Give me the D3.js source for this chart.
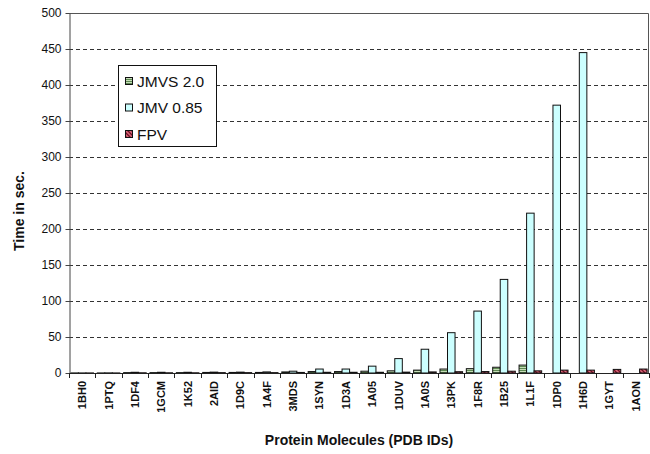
<!DOCTYPE html>
<html>
<head>
<meta charset="utf-8">
<script src="https://cdn.jsdelivr.net/npm/d3@7/dist/d3.min.js"></script>
<style>
  html, body { margin: 0; padding: 0; background: #fff; }
  svg { display: block; font-family: "Liberation Sans", Arial, sans-serif; }
</style>
</head>
<body>
<svg id="chart" width="650" height="454"></svg>
<script>
const categories = ["1BH0","1PTQ","1DF4","1GCM","1K52","2AID","1D9C","1A4F","3MDS","1SYN","1D3A","1A05","1DUV","1A0S","13PK","1F8R","1B25","1L1F","1DP0","1H6D","1GYT","1AON"];
const seriesNames = ["JMVS 2.0", "JMV 0.85", "FPV"];
const jmvs = [0.1,0.1,0.5,0.5,0.5,0.8,0.8,0.8,1.5,2,2,2.5,3,4,5.5,6,8,11,null,null,null,null];
const jmv  = [0.1,0.2,1,1,1,1.2,1.2,1.5,2.5,5.5,5.5,9.5,20,33,56,86,130,222,372,445,null,null];
const fpv  = [0.1,0.1,0.3,0.3,0.3,0.5,0.5,0.5,0.8,1,1,1,1.2,1.5,1.8,2,2.5,3,4,4,5,5.5];
const yTicks = [0,50,100,150,200,250,300,350,400,450,500];
const yTitle = "Time in sec.";
const xTitle = "Protein Molecules (PDB IDs)";

const seriesValues = [jmvs, jmv, fpv];
const fills = ["url(#patGreen)", "#ccffff", "url(#patRed)"];

const svg = d3.select("#chart");
const L = 69, R = 649, T = 13, B = 373;

// patterns
const defs = svg.append("defs");
const pg = defs.append("pattern").attr("id","patGreen").attr("patternUnits","userSpaceOnUse")
  .attr("width",4).attr("height",2);
pg.append("rect").attr("width",4).attr("height",2).attr("fill","#c6dcb8");
pg.append("rect").attr("width",4).attr("height",1).attr("fill","#5d8a52");
const pr = defs.append("pattern").attr("id","patRed").attr("patternUnits","userSpaceOnUse")
  .attr("width",4).attr("height",4);
pr.append("rect").attr("width",4).attr("height",4).attr("fill","#d9687a");
pr.append("path").attr("d","M0,0 L4,4 M-1,3 L1,5 M3,-1 L5,1").attr("stroke","#6e0f22").attr("stroke-width",1.3);

const x = d3.scaleBand().domain(categories).range([L, R]).paddingInner(0).paddingOuter(0);
const xs = d3.scaleBand().domain(seriesNames).range([0, x.bandwidth()]).paddingInner(0).paddingOuter(0.25);
const y = d3.scaleLinear().domain([0, 500]).range([B, T]);

// gridlines
svg.append("g").selectAll("line").data(yTicks.filter(v => v > 0 && v < 500)).join("line")
  .attr("x1", L).attr("x2", R)
  .attr("y1", d => Math.round(y(d)) + 0.5).attr("y2", d => Math.round(y(d)) + 0.5)
  .attr("stroke", "#333").attr("stroke-width", 1).attr("stroke-dasharray", "4,3");

// plot border top & right
svg.append("path")
  .attr("d", `M${L},${T + 0.5} H${R - 0.5} V${B}`)
  .attr("fill", "none").attr("stroke", "#555").attr("stroke-width", 1);

// bars
const rows = [];
seriesNames.forEach((s, si) => {
  categories.forEach((c, ci) => {
    const v = seriesValues[si][ci];
    if (v !== null && v !== undefined) rows.push({s, si, c, v});
  });
});
svg.append("g").selectAll("rect").data(rows).join("rect")
  .attr("x", d => x(d.c) + xs(d.s))
  .attr("width", xs.bandwidth())
  .attr("y", d => y(d.v))
  .attr("height", d => B - y(d.v))
  .attr("fill", d => fills[d.si])
  .attr("stroke", "#111").attr("stroke-width", 1);

// y axis
const yAxis = d3.axisLeft(y).tickValues(yTicks).tickSize(4).tickSizeOuter(0).tickPadding(4);
const gy = svg.append("g").attr("transform", `translate(${L + 0.5},0)`).call(yAxis);
gy.select(".domain").attr("stroke", "#444");
gy.selectAll(".tick line").attr("stroke", "#444");
gy.selectAll("text").attr("font-size", 12).attr("fill", "#111")
  .attr("font-family", "Liberation Sans, Arial, sans-serif");

// x axis baseline & ticks at category boundaries
svg.append("line").attr("x1", L).attr("x2", R).attr("y1", B + 0.5).attr("y2", B + 0.5)
  .attr("stroke", "#222").attr("stroke-width", 1);
const bounds = categories.map(c => x(c)).concat([x(categories[categories.length - 1]) + x.bandwidth()]);
svg.append("g").selectAll("line").data(bounds).join("line")
  .attr("x1", d => Math.round(d) + 0.5).attr("x2", d => Math.round(d) + 0.5)
  .attr("y1", B).attr("y2", B + 5)
  .attr("stroke", "#222");

// x tick labels
svg.append("g").selectAll("text").data(categories).join("text")
  .attr("transform", d => `translate(${x(d) + x.bandwidth() / 2 + 4},381) rotate(-90)`)
  .attr("text-anchor", "end")
  .attr("font-size", 11).attr("font-weight", "bold").attr("fill", "#111")
  .text(d => d);

// axis titles
svg.append("text").attr("transform", "translate(24,211) rotate(-90)")
  .attr("text-anchor", "middle").attr("font-size", 14).attr("font-weight", "bold").attr("fill", "#111")
  .text(yTitle);
svg.append("text").attr("x", (L + R) / 2).attr("y", 445)
  .attr("text-anchor", "middle").attr("font-size", 14).attr("font-weight", "bold").attr("fill", "#111")
  .text(xTitle);

// legend
const lg = svg.append("g").attr("transform", "translate(118,65)");
lg.append("rect").attr("x", 0.5).attr("y", 0.5).attr("width", 98).attr("height", 81)
  .attr("fill", "#fff").attr("stroke", "#111");
seriesNames.forEach((s, i) => {
  const cy = 16 + i * 26.5;
  lg.append("rect").attr("x", 7.5).attr("y", cy - 3.5).attr("width", 7).attr("height", 7)
    .attr("fill", fills[i]).attr("stroke", "#111");
  lg.append("text").attr("x", 19).attr("y", cy + 5.5)
    .attr("font-size", 15.5).attr("fill", "#111").text(s);
});
</script>
</body>
</html>
